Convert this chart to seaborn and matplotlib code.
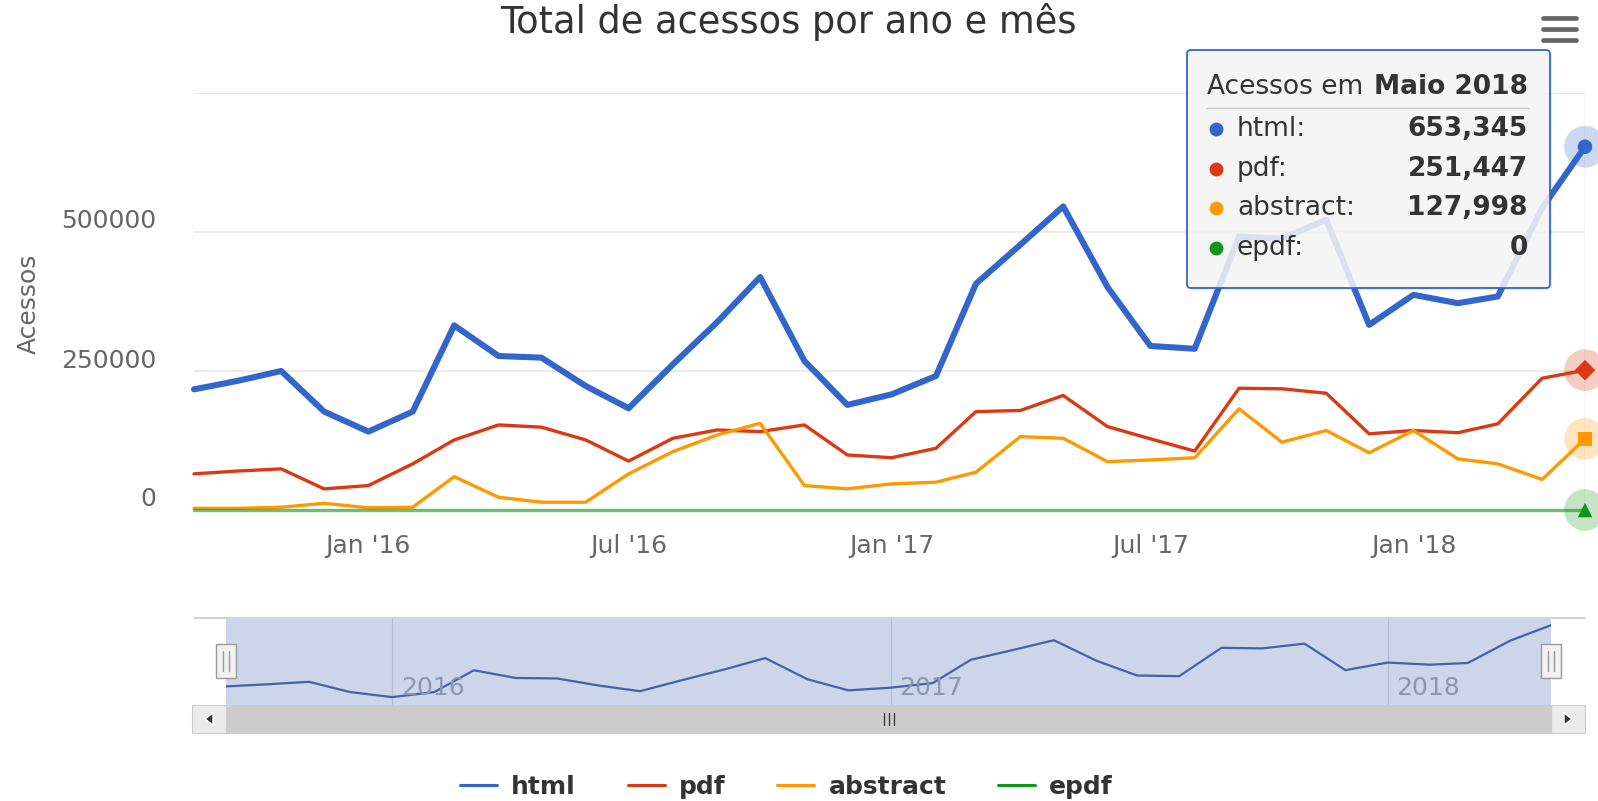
import numpy as np
import pandas as pd
import matplotlib.pyplot as plt
from matplotlib.lines import Line2D
from matplotlib.patches import FancyBboxPatch, Rectangle, Polygon
from matplotlib.transforms import ScaledTranslation, IdentityTransform, blended_transform_factory
import seaborn as sns


# dados
meses = pd.date_range('2015-09-01', '2018-05-01', freq='MS')

html = [217000, 232000, 250000, 177000, 141000, 177000, 332000, 277000, 274000, 223000, 183000,
        262000, 338000, 419000, 268000, 189000, 208000, 241000, 407000, 477000, 546000, 401000,
        295000, 290000, 492000, 488000, 522000, 333000, 387000, 372000, 384000, 543000, 653345]
pdf = [65000, 70000, 74000, 38000, 44000, 83000, 126000, 153000, 149000, 126000, 88000,
       129000, 144000, 141000, 153000, 99000, 94000, 111000, 177000, 179000, 206000, 150000,
       128000, 106000, 219000, 218000, 210000, 137000, 143000, 139000, 155000, 237000, 251447]
abstract = [3000, 3000, 5000, 12000, 4000, 5000, 60000, 23000, 14000, 14000, 65000,
            105000, 135000, 156000, 44000, 38000, 47000, 50000, 68000, 132000, 129000, 87000,
            90000, 94000, 182000, 122000, 143000, 103000, 143000, 92000, 83000, 55000, 127998]
epdf = [0, 0, 0, 0, 0, 0, 0, 0, 0, 0, 0,
        0, 0, 0, 0, 0, 0, 0, 0, 0, 0, 0,
        0, 0, 0, 0, 0, 0, 0, 0, 0, 0, 0]

tipos = ['html', 'pdf', 'abstract', 'epdf']
cores = ['#3366cc', '#dc3912', '#ff9900', '#109618']
simbolos = ['o', 'D', 's', '^']

x_ticks = pd.to_datetime(['2016-01-01', '2016-07-01', '2017-01-01', '2017-07-01', '2018-01-01'])
x_tick_labels = ["Jan '16", "Jul '16", "Jan '17", "Jul '17", "Jan '18"]
y_ticks = [0, 250000, 500000, 750000]
y_tick_labels = ['0', '250000', '500000', '']
anos = pd.to_datetime(['2016-01-01', '2017-01-01', '2018-01-01'])
anos_labels = ['2016', '2017', '2018']
nomes_meses = ['Janeiro', 'Fevereiro', 'Março', 'Abril', 'Maio', 'Junho', 'Julho',
               'Agosto', 'Setembro', 'Outubro', 'Novembro', 'Dezembro']

df = pd.DataFrame({
    'mes': np.tile(meses, len(tipos)),
    'acessos': html + pdf + abstract + epdf,
    'tipo': np.repeat(tipos, len(meses)),
})
paleta = dict(zip(tipos, cores))

sns.set_style('white')
plt.rcParams['font.family'] = ['DejaVu Sans']

W, H = 1598, 801


def fx(x):
    return x / W


def fy(y):
    return 1 - y / H


fig = plt.figure(figsize=(W / 100, H / 100), dpi=100, facecolor='white')

# grafico principal
ax = fig.add_axes([fx(194), fy(510), fx(1585) - fx(194), (510 - 93) / H])
sns.lineplot(data=df, x='mes', y='acessos', hue='tipo', size='tipo',
             sizes=dict(zip(tipos, [4.4, 2.4, 2.4, 2.4])), palette=paleta,
             legend=False, ax=ax)
for ln in ax.lines:
    ln.set_clip_on(False)
    ln.set_solid_joinstyle('round')
    ln.set_solid_capstyle('round')
ax.lines[3].set_alpha(0.6)

ax.axvline(meses[-1], color='#cccccc', lw=1, zorder=0)

# pontos destacados no ultimo mes
ultimo = df[df['mes'] == meses[-1]]
sns.scatterplot(data=ultimo, x='mes', y='acessos', hue='tipo', palette=paleta,
                s=900, alpha=0.25, linewidth=0, legend=False, ax=ax)
sns.scatterplot(data=ultimo, x='mes', y='acessos', hue='tipo', style='tipo',
                markers=dict(zip(tipos, simbolos)), palette=paleta,
                s=110, linewidth=0, legend=False, ax=ax)
for coll in ax.collections:
    coll.set_clip_on(False)

ax.set_xlim(meses[0], meses[-1])
ax.set_ylim(0, 750000)
ax.set_xticks(x_ticks)
ax.set_xticklabels(x_tick_labels)
ax.set_yticks(y_ticks)
ax.set_yticklabels(y_tick_labels)
ax.grid(axis='y', color='#e6e6e6', lw=1.1)
ax.grid(axis='x', visible=False)
sns.despine(ax=ax, left=True, bottom=True)
ax.tick_params(axis='x', length=14, width=0.8, color='#ccd6eb', pad=3,
               labelsize=18, labelcolor='#666666')
ax.tick_params(axis='y', length=0, pad=27, labelsize=18, labelcolor='#666666')
for lab in ax.get_yticklabels():
    lab.set_transform(lab.get_transform() + ScaledTranslation(0, 13 / 100, fig.dpi_scale_trans))
ax.set_xlabel('')
ax.set_ylabel('Acessos', fontsize=18, color='#666666')
ax.yaxis.set_label_coords(-0.110, 0.494)

fig.text(fx(788), fy(22), 'Total de acessos por ano e mês', ha='center', va='center',
         fontsize=26.5, color='#333333')

# menu
for yy in [18, 29, 40]:
    fig.add_artist(Line2D([1543, 1576], [H - yy, H - yy], color='#666666', lw=3.4,
                          solid_capstyle='round', transform=IdentityTransform()))

# navegador
ax_nav = fig.add_axes([fx(226), fy(705), fx(1551) - fx(226), (705 - 618) / H])
fig.add_artist(Line2D([194, 1585], [H - 618, H - 618], color='#cccccc', lw=1.2,
                      transform=IdentityTransform(), zorder=-1))
ax_nav.set_facecolor('#ccd5ea')
sns.lineplot(x=meses, y=html, color='#4462a8', lw=1.6, ax=ax_nav)
faixa = max(html) - min(html)
ax_nav.set_xlim(meses[0], meses[-1])
ax_nav.set_ylim(min(html) - 0.11 * faixa, max(html) + 0.1 * faixa)
ax_nav.set_xticks(anos)
ax_nav.set_yticks([])
ax_nav.tick_params(axis='x', length=0, labelbottom=False)
ax_nav.grid(axis='x', color='#b3bdd6', lw=0.8)
ax_nav.grid(axis='y', visible=False)
ax_nav.set_xlabel('')
sns.despine(ax=ax_nav, left=True, bottom=True)
trans_nav = blended_transform_factory(ax_nav.transData, ax_nav.transAxes) + \
    ScaledTranslation(9 / 100, 0, fig.dpi_scale_trans)
for d, lab in zip(anos, anos_labels):
    ax_nav.text(d, 0.2, lab, transform=trans_nav, ha='left', va='center',
                fontsize=18, color='#8c96ad')

# alcas do navegador
for cx in [226, 1551]:
    fig.add_artist(Rectangle((cx - 10, H - 678), 20, 34, facecolor='#f2f2f2',
                             edgecolor='#999999', lw=1, transform=IdentityTransform(), zorder=5))
    for dx in [-3, 3]:
        fig.add_artist(Line2D([cx + dx, cx + dx], [H - 671, H - 651], color='#999999', lw=1,
                              transform=IdentityTransform(), zorder=6))

# barra de rolagem
fig.add_artist(Rectangle((192, H - 733), 34, 28, facecolor='#ebebeb', edgecolor='#cccccc',
                         lw=0.8, transform=IdentityTransform()))
fig.add_artist(Rectangle((1551, H - 733), 34, 28, facecolor='#ebebeb', edgecolor='#cccccc',
                         lw=0.8, transform=IdentityTransform()))
fig.add_artist(Rectangle((226, H - 733), 1325, 28, facecolor='#cccccc', edgecolor='#cccccc',
                         lw=0.8, transform=IdentityTransform()))
fig.add_artist(Polygon([[205, H - 719], [213, H - 713], [213, H - 725]], closed=True,
                       facecolor='#333333', transform=IdentityTransform()))
fig.add_artist(Polygon([[1572, H - 719], [1564, H - 713], [1564, H - 725]], closed=True,
                       facecolor='#333333', transform=IdentityTransform()))
for xx in [884, 889, 894]:
    fig.add_artist(Line2D([xx, xx], [H - 725, H - 713], color='#333333', lw=0.9,
                          transform=IdentityTransform()))

# tooltip
fig.add_artist(FancyBboxPatch((1189, H - 290), 363, 238, boxstyle='round,pad=0,rounding_size=4',
                              facecolor='black', edgecolor='none', alpha=0.08,
                              transform=IdentityTransform(), zorder=9))
fig.add_artist(FancyBboxPatch((1187, H - 288), 363, 238, boxstyle='round,pad=0,rounding_size=4',
                              facecolor=(0.97, 0.97, 0.97, 0.86), edgecolor='#3366cc', lw=1.3,
                              transform=IdentityTransform(), zorder=10))
mes_final = f'{nomes_meses[meses[-1].month - 1]} {meses[-1].year}'
fig.text(fx(1207), fy(87), 'Acessos em', ha='left', va='center', fontsize=19,
         color='#333333', zorder=11)
fig.text(fx(1528), fy(87), mes_final, ha='right', va='center', fontsize=19,
         color='#333333', weight='bold', zorder=11)
fig.add_artist(Line2D([1206, 1529], [H - 108, H - 108], color='#cccccc', lw=1,
                      transform=IdentityTransform(), zorder=11))
for i, (t, c) in enumerate(zip(tipos, cores)):
    yy = 129 + i * 39.7
    v = int(ultimo.loc[ultimo['tipo'] == t, 'acessos'].iloc[0])
    fig.add_artist(Line2D([1216], [H - yy], marker='o', ms=10, color=c, mew=0,
                          transform=IdentityTransform(), zorder=11))
    fig.text(fx(1237), fy(yy), t + ':', ha='left', va='center', fontsize=19,
             color='#333333', zorder=11)
    fig.text(fx(1528), fy(yy), f'{v:,}', ha='right', va='center', fontsize=19,
             color='#333333', weight='bold', zorder=11)

# legenda
handles = [Line2D([], [], color=c, lw=2.2) for c in cores]
fig.legend(handles, tipos, loc='center', bbox_to_anchor=(fx(786.5), fy(787)), ncol=4,
           frameon=False, prop={'weight': 'bold', 'size': 18}, labelcolor='#333333',
           handlelength=1.48, handletextpad=0.56, columnspacing=2.08)

fig.savefig('out.png', dpi=100, facecolor='white')
